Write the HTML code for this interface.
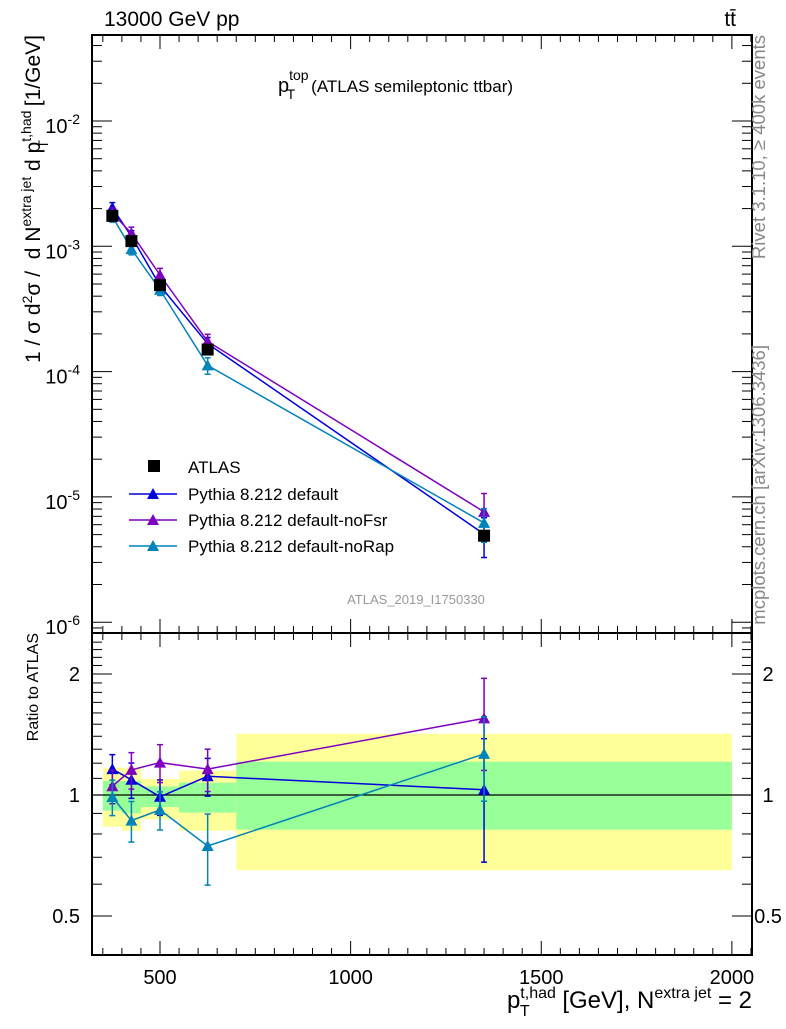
<!DOCTYPE html>
<html><head><meta charset="utf-8"><style>
body{margin:0;background:#fff;width:786px;height:1024px;overflow:hidden}
svg{font-family:"Liberation Sans",sans-serif}
</style></head><body>
<svg id="c" width="786" height="1024" xmlns="http://www.w3.org/2000/svg"></svg>
<script>
const categories=[375,425,500,625,1350];
const binLo=[350,400,450,550,700];
const binHi=[400,450,550,700,2000];
const atlas=[1.75e-3,1.1e-3,4.9e-4,1.5e-4,4.9e-6];
const pDefault=[2.03e-3,1.2e-3,4.85e-4,1.67e-4,5.05e-6];
const pNoFsr=[1.84e-3,1.27e-3,5.9e-4,1.74e-4,7.6e-6];
const pNoRap=[1.73e-3,9.5e-4,4.5e-4,1.12e-4,6.2e-6];
const errDefault=[0.1,0.11,0.1,0.12,0.35];
const errNoFsr=[0.1,0.12,0.13,0.14,0.4];
const errNoRap=[0.1,0.1,0.1,0.15,0.3];
const yellowHi=[1.17,1.17,1.096,1.15,1.42];
const yellowLo=[0.834,0.815,0.87,0.815,0.65];
const greenHi=[1.083,1.083,1.05,1.073,1.21];
const greenLo=[0.914,0.9,0.933,0.904,0.82];
const xTicks=[500,1000,1500,2000];
const yTicks=[-6,-5,-4,-3,-2];
const rTicks=[0.5,1,2];

const S=document.getElementById('c');const NS='http://www.w3.org/2000/svg';
function el(t,a,txt){const e=document.createElementNS(NS,t);for(const k in a)e.setAttribute(k,a[k]);if(txt!==undefined)e.textContent=txt;S.appendChild(e);return e;}
const L=92,R=752,T=35,MB=633,RB=955;
const X=v=>160+(v-500)*0.38125;
const Y=v=>121-(Math.log10(v)+2)*125.3;
const RY=v=>795-Math.log10(v)*402;

for(let i=0;i<binLo.length;i++){
 let e=el('rect',{x:X(binLo[i]),y:RY(yellowHi[i]),width:X(binHi[i])-X(binLo[i]),height:RY(yellowLo[i])-RY(yellowHi[i]),fill:'#ffff99'});
 
 e=el('rect',{x:X(binLo[i]),y:RY(greenHi[i]),width:X(binHi[i])-X(binLo[i]),height:RY(greenLo[i])-RY(greenHi[i]),fill:'#99ff99'});
 
}
el('line',{x1:L,x2:R,y1:RY(1),y2:RY(1),stroke:'#000','stroke-width':1.3});

el('rect',{x:L,y:T,width:R-L,height:MB-T,fill:'none',stroke:'#000','stroke-width':2,});
el('rect',{x:L,y:MB,width:R-L,height:RB-MB,fill:'none',stroke:'#000','stroke-width':2,});

for(const pan of [[T,MB],[MB,RB]]){
 for(let v=350;v<=2050;v+=50){const big=v%500==0;const l=big?14:7;
  el('line',{x1:X(v),x2:X(v),y1:pan[1],y2:pan[1]-l,stroke:'#000'});
  el('line',{x1:X(v),x2:X(v),y1:pan[0],y2:pan[0]+l,stroke:'#000'});}
}
xTicks.forEach(v=>{const e=el('text',{x:X(v),y:984,'font-size':20,'text-anchor':'middle'},v);});
for(let d=-7;d<=-1;d++)for(let m=1;m<10;m++){const v=m*Math.pow(10,d);const y=Y(v);if(y<T||y>MB)continue;const l=m==1?20:10;
 el('line',{x1:L,x2:L+l,y1:y,y2:y,stroke:'#000'});el('line',{x1:R,x2:R-l,y1:y,y2:y,stroke:'#000'});}
yTicks.forEach(d=>{const e=el('text',{x:80,y:Y(Math.pow(10,d))+12,'font-size':20,'text-anchor':'end'});
 e.innerHTML='10<tspan dy="-9" font-size="14">'+d+'</tspan>';});
for(let v=0.4;v<=2.5;v+=0.1){const y=RY(v);if(y<MB||y>RB)continue;const big=[0.5,1,2].some(t=>Math.abs(t-v)<1e-6);const l=big?20:10;
 el('line',{x1:L,x2:L+l,y1:y,y2:y,stroke:'#000'});el('line',{x1:R,x2:R-l,y1:y,y2:y,stroke:'#000'});}
rTicks.forEach(v=>{let e=el('text',{x:80,y:RY(v)+7,'font-size':20,'text-anchor':'end'},v);
 e=el('text',{x:768,y:RY(v)+7,'font-size':20,'text-anchor':'middle'},v);});

function tri(x,y,c,name){const e=el('polygon',{points:`${x-6},${y+5} ${x+6},${y+5} ${x},${y-6}`,fill:c});}
const series=[[pDefault,errDefault,'#0000dd','default'],[pNoFsr,errNoFsr,'#7f00bf','nofsr'],[pNoRap,errNoRap,'#0083b8','norap']];
series.forEach(([vals,err,c,n])=>{
 let pts=categories.map((x,i)=>X(x)+','+Y(vals[i])).join(' ');
 let e=el('polyline',{points:pts,fill:'none',stroke:c,'stroke-width':1.5});
 const rat=vals.map((v,i)=>v/atlas[i]);
 pts=categories.map((x,i)=>X(x)+','+RY(rat[i])).join(' ');
 e=el('polyline',{points:pts,fill:'none',stroke:c,'stroke-width':1.5});
 categories.forEach((x,i)=>{const X0=X(x);
  const lo=rat[i]-err[i],hi=rat[i]+err[i];
  el('line',{x1:X0,x2:X0,y1:Y(vals[i]*(1-err[i])),y2:Y(vals[i]*(1+err[i])),stroke:c,'stroke-width':1.5});
  for(const r of [1-err[i],1+err[i]])el('line',{x1:X0-3,x2:X0+3,y1:Y(vals[i]*r),y2:Y(vals[i]*r),stroke:c,'stroke-width':1.5});
  el('line',{x1:X0,x2:X0,y1:RY(lo),y2:RY(hi),stroke:c,'stroke-width':1.5});
  for(const r of [lo,hi])el('line',{x1:X0-3,x2:X0+3,y1:RY(r),y2:RY(r),stroke:c,'stroke-width':1.5});
  tri(X0,Y(vals[i]),c,'point-'+n);tri(X0,RY(rat[i]),c,'ratio-point-'+n);});
});
categories.forEach((x,i)=>{const e=el('rect',{x:X(x)-6,y:Y(atlas[i])-6,width:12,height:12,fill:'#000'});});

el('rect',{x:148,y:460,width:12,height:12,fill:'#000'});
el('text',{x:188,y:473,'font-size':17,},'ATLAS');
[['#0000dd','Pythia 8.212 default'],['#7f00bf','Pythia 8.212 default-noFsr'],['#0083b8','Pythia 8.212 default-noRap']].forEach(([c,t],i)=>{const y=494+i*26;
 el('line',{x1:129,x2:177,y1:y,y2:y,stroke:c,'stroke-width':1.5});tri(153,y,c,'legend-marker');
 const e=el('text',{x:188,y:y+6,'font-size':17},t);});

el('text',{x:104,y:26,'font-size':21,},'13000 GeV pp');
el('text',{x:736,y:26,'font-size':21,'text-anchor':'end',},'tt̄');
let t=el('text',{x:278,y:92,'font-size':20,});
t.innerHTML='p<tspan dy="-12" font-size="14">top</tspan><tspan dx="-22" dy="19" font-size="14">T</tspan><tspan dx="16" dy="-7" font-size="17">(ATLAS semileptonic ttbar)</tspan>';
el('text',{x:416,y:604,'font-size':13,'fill':'#999','text-anchor':'middle',},'ATLAS_2019_I1750330');
el('text',{x:0,y:0,'font-size':18.5,fill:'#888','text-anchor':'end',transform:'translate(765,35) rotate(-90)',},'Rivet 3.1.10, ≥ 400k events');
el('text',{x:0,y:0,'font-size':18.5,fill:'#888','text-anchor':'end',transform:'translate(765,345) rotate(-90)',},'mcplots.cern.ch [arXiv:1306.3436]');
t=el('text',{x:0,y:0,'font-size':21,'text-anchor':'end',transform:'translate(40,35) rotate(-90)',});
t.innerHTML='1 / σ d<tspan dy="-8" font-size="14">2</tspan><tspan dy="8">σ / &#160;d N</tspan><tspan dy="-9" font-size="14">extra jet</tspan><tspan dy="9"> d p</tspan><tspan dy="-9" font-size="14">t,had</tspan><tspan dx="-38" dy="17" font-size="14">T</tspan><tspan dx="28" dy="-8"> [1/GeV]</tspan>';
el('text',{x:0,y:0,'font-size':16,'text-anchor':'end',transform:'translate(38,633) rotate(-90)',},'Ratio to ATLAS');
t=el('text',{x:752,y:1008,'font-size':24,'text-anchor':'end',});
t.innerHTML='p<tspan dy="-10" font-size="16">t,had</tspan><tspan dx="-36" dy="18" font-size="16">T</tspan><tspan dx="26" dy="-8"> [GeV], N</tspan><tspan dy="-10" font-size="16">extra jet</tspan><tspan dy="10"> = 2</tspan>';
</script>
</body></html>
